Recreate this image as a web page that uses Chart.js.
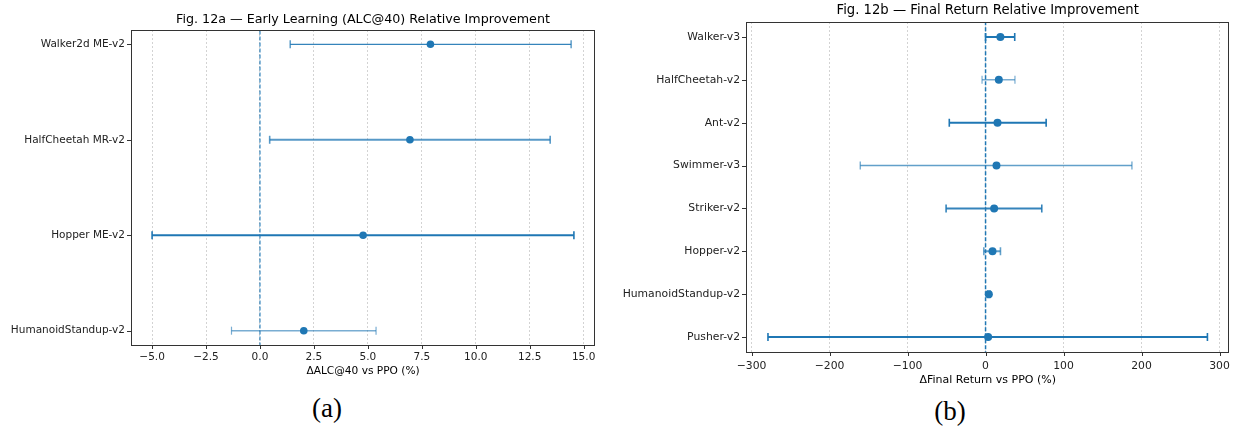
<!DOCTYPE html>
<html>
<head>
<meta charset="utf-8">
<script src="https://cdn.jsdelivr.net/npm/chart.js@4/dist/chart.umd.min.js"></script>
<style>
  html, body { margin: 0; padding: 0; background: #fff; }
  body { width: 1235px; height: 426px; position: relative; overflow: hidden; }
  canvas { position: absolute; }
  #cA { left: 0px; top: 0px; }
  #cB { left: 620px; top: 0px; }
  .cap { position: absolute; font-family: "Liberation Serif", "DejaVu Serif", serif; font-size: 27px; color: #000; transform: translate(-50%, -50%); }
</style>
</head>
<body>
<canvas id="cA" width="610" height="382"></canvas>
<canvas id="cB" width="615" height="391"></canvas>
<div class="cap" style="left:327px; top:408px;">(a)</div>
<div class="cap" style="left:950px; top:411px;">(b)</div>
<script>
// ---------- Data: Fig. 12a ----------
const titleA = "Fig. 12a \u2014 Early Learning (ALC@40) Relative Improvement";
const xLabelA = "\u0394ALC@40 vs PPO (%)";
const categoriesA = ["Walker2d ME-v2", "HalfCheetah MR-v2", "Hopper ME-v2", "HumanoidStandup-v2"];
const meanA = [7.90, 6.95, 4.78, 2.03];
const lowA  = [1.40, 0.45, -5.00, -1.32];
const highA = [14.42, 13.45, 14.55, 5.38];
const xTicksA = [-5, -2.5, 0, 2.5, 5, 7.5, 10, 12.5, 15];
const xTickLabelsA = ["\u22125.0", "\u22122.5", "0.0", "2.5", "5.0", "7.5", "10.0", "12.5", "15.0"];

// ---------- Data: Fig. 12b ----------
const titleB = "Fig. 12b \u2014 Final Return Relative Improvement";
const xLabelB = "\u0394Final Return vs PPO (%)";
const categoriesB = ["Walker-v3", "HalfCheetah-v2", "Ant-v2", "Swimmer-v3", "Striker-v2", "Hopper-v2", "HumanoidStandup-v2", "Pusher-v2"];
const meanB = [19.0, 17.0, 15.3, 14.0, 11.0, 8.9, 4.2, 3.3];
const lowB  = [0.0, -4.5, -46.5, -160.7, -50.6, -2.2, 2.6, -279.0];
const highB = [37.4, 37.7, 77.7, 187.7, 72.1, 19.1, 5.8, 284.5];
const xTicksB = [-300, -200, -100, 0, 100, 200, 300];
const xTickLabelsB = ["\u2212300", "\u2212200", "\u2212100", "0", "100", "200", "300"];

// ---------- Styles (kept apart from data) ----------
const barWidthA = [1.2, 2.0, 2.0, 1.5];
const barAlphaA = [0.9, 0.75, 1.0, 0.6];
const barWidthB = [2.0, 1.5, 2.0, 1.5, 2.0, 2.0, 2.0, 2.0];
const barAlphaB = [1.0, 0.6, 1.0, 0.7, 0.9, 0.7, 0.7, 1.0];

const C0 = [31, 119, 180];
const rgba = a => `rgba(${C0[0]},${C0[1]},${C0[2]},${a})`;
const FONT = "'DejaVu Sans', 'Liberation Sans', sans-serif";

// frame, tick marks and plot-centred title (positions from the chart's scales)
const framePlugin = {
  id: 'frame',
  afterDatasetsDraw(chart, args, opts) {
    const {ctx, chartArea: a, scales} = chart;
    ctx.save();
    ctx.strokeStyle = '#333';
    ctx.lineWidth = 1;
    ctx.setLineDash([]);
    ctx.beginPath();
    scales.x.ticks.forEach(t => {
      const px = Math.round(scales.x.getPixelForValue(t.value)) + 0.5;
      ctx.moveTo(px, a.bottom); ctx.lineTo(px, a.bottom + 4);
    });
    scales.y.ticks.forEach(t => {
      const py = Math.round(scales.y.getPixelForValue(t.value)) + 0.5;
      ctx.moveTo(a.left - 4, py); ctx.lineTo(a.left, py);
    });
    ctx.stroke();
    ctx.strokeRect(Math.round(a.left) + 0.5, Math.round(a.top) + 0.5,
                   Math.round(a.right - a.left) - 1, Math.round(a.bottom - a.top));
    // title centred on the plot area
    ctx.fillStyle = '#000';
    ctx.font = `${opts.size}px ${FONT}`;
    ctx.textAlign = 'center';
    ctx.textBaseline = 'middle';
    ctx.fillText(opts.text, (a.left + a.right) / 2, opts.y);
    ctx.restore();
  }
};

function makeChart(canvasId, cfg) {
  const n = cfg.categories.length;
  const lo = Math.min(...cfg.low), hi = Math.max(...cfg.high);
  const pad = 0.05 * (hi - lo);
  const xMin = lo - pad, xMax = hi + pad;
  const yPad = 0.05 * (n - 1);

  const datasets = [];
  // zero reference line (dashed)
  datasets.push({
    data: [{x: 0, y: -yPad - 1}, {x: 0, y: n - 1 + yPad + 1}],
    showLine: true, borderColor: rgba(1), borderWidth: cfg.zeroWidth,
    borderDash: [4, 2], pointRadius: 0, order: 0
  });
  // means
  datasets.push({
    data: cfg.mean.map((v, i) => ({x: v, y: i})),
    showLine: false, pointRadius: cfg.markerR, pointHoverRadius: cfg.markerR,
    backgroundColor: rgba(1), borderColor: rgba(1), borderWidth: 0, order: 1
  });
  // error bars with caps
  cfg.categories.forEach((c, i) => {
    const col = rgba(cfg.barAlpha[i]);
    datasets.push({
      data: [{x: cfg.low[i], y: i}, {x: cfg.high[i], y: i}],
      showLine: true, borderColor: col, borderWidth: cfg.barWidth[i],
      pointStyle: 'line', pointRotation: 90, pointRadius: 4, pointHoverRadius: 4,
      pointBorderColor: col, pointBorderWidth: Math.max(1.2, cfg.barWidth[i] * 0.8),
      order: 2
    });
  });

  return new Chart(document.getElementById(canvasId), {
    type: 'scatter',
    data: { datasets },
    options: {
      responsive: false, animation: false, devicePixelRatio: 1,
      layout: { padding: { left: 0, right: cfg.rightPad, top: cfg.plotTop, bottom: 0 } },
      plugins: {
        legend: { display: false }, tooltip: { enabled: false },
        title: { display: false },
        frame: { text: cfg.title, size: cfg.titleSize, y: cfg.titleY }
      },
      scales: {
        x: {
          type: 'linear', min: xMin, max: xMax,
          afterBuildTicks: ax => { ax.ticks = cfg.xTicks.map(v => ({value: v})); },
          afterFit: ax => { ax.height = cfg.xAxisHeight; ax.paddingLeft = 0; ax.paddingRight = 0; },
          ticks: {
            color: '#222', font: { family: FONT, size: cfg.tickSize }, padding: cfg.xTickPad,
            maxRotation: 0, autoSkip: false,
            callback: (v) => { const k = cfg.xTicks.indexOf(v); return k >= 0 ? cfg.xTickLabels[k] : ''; }
          },
          grid: { color: '#c8c8c8', lineWidth: 0.8, drawTicks: false },
          border: { display: false, dash: [2, 2] },
          title: { display: true, text: cfg.xLabel, color: '#000',
                   font: { family: FONT, size: cfg.labelSize }, padding: { top: 2, bottom: 4 } }
        },
        y: {
          type: 'linear', reverse: true, min: -yPad, max: n - 1 + yPad,
          afterBuildTicks: ax => { ax.ticks = cfg.categories.map((c, i) => ({value: i})); },
          afterFit: ax => { ax.width = cfg.yAxisWidth; ax.paddingTop = 0; ax.paddingBottom = 0; },
          ticks: {
            color: '#222', font: { family: FONT, size: cfg.tickSize }, padding: 6, autoSkip: false,
            callback: v => cfg.categories[v] ?? ''
          },
          grid: { display: false, drawTicks: false },
          border: { display: false }
        }
      }
    },
    plugins: [framePlugin]
  });
}

makeChart('cA', {
  title: titleA, xLabel: xLabelA, categories: categoriesA,
  mean: meanA, low: lowA, high: highA,
  xTicks: xTicksA, xTickLabels: xTickLabelsA,
  barWidth: barWidthA, barAlpha: barAlphaA,
  yAxisWidth: 131, rightPad: 15, plotTop: 30, titleY: 20, titleSize: 12.7,
  tickSize: 10.5, labelSize: 10.6, markerR: 3.8,
  xAxisHeight: 37, xTickPad: 6, zeroWidth: 1.1
});

makeChart('cB', {
  title: titleB, xLabel: xLabelB, categories: categoriesB,
  mean: meanB, low: lowB, high: highB,
  xTicks: xTicksB, xTickLabels: xTickLabelsB,
  barWidth: barWidthB, barAlpha: barAlphaB,
  yAxisWidth: 126, rightPad: 3, plotTop: 22, titleY: 11, titleSize: 13.2,
  tickSize: 10.8, labelSize: 11, markerR: 4,
  xAxisHeight: 39, xTickPad: 8, zeroWidth: 1.5
});
</script>
</body>
</html>
